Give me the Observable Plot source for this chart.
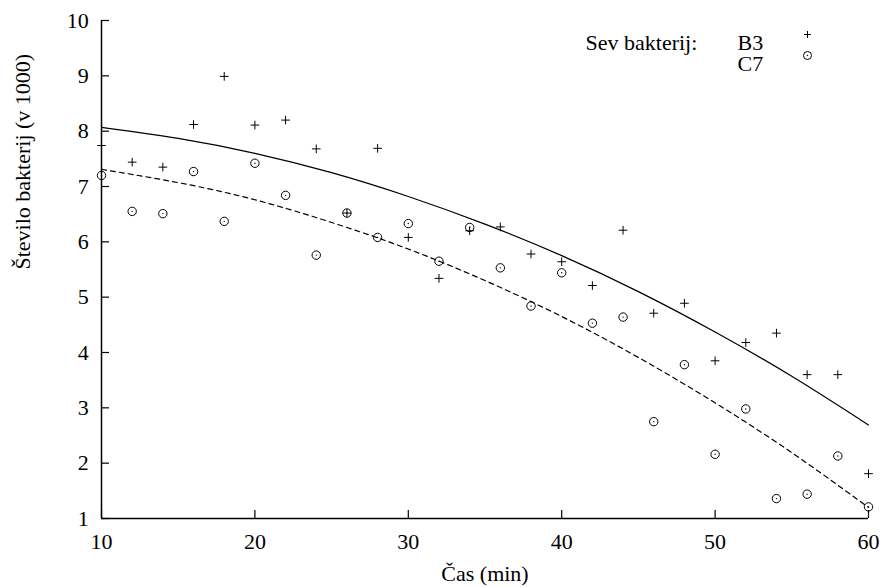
<!DOCTYPE html>
<html><head><meta charset="utf-8">
<script src="https://cdn.jsdelivr.net/npm/d3@7"></script>
<script src="https://cdn.jsdelivr.net/npm/@observablehq/plot@0.6"></script>
<style>body{margin:0;background:#fff} #chart svg{display:block} #chart svg text{font-family:"Liberation Serif","Times New Roman",serif !important}</style>
</head><body><div id="chart"></div>
<script>
const time = [10,12,14,16,18,20,22,24,26,28,30,32,34,36,38,40,42,44,46,48,50,52,54,56,58,60];
const b3 = [7.74,7.44,7.35,8.12,8.99,8.11,8.20,7.68,6.52,7.69,6.08,5.34,6.20,6.27,5.78,5.64,5.21,6.21,4.71,4.89,3.85,4.18,4.35,3.60,3.60,1.81];
const c7 = [7.20,6.55,6.51,7.27,6.37,7.42,6.84,5.76,6.52,6.08,6.33,5.65,6.26,5.53,4.84,5.44,4.53,4.64,2.75,3.78,2.16,2.98,1.36,1.44,2.13,1.21];
const fitTime = [10,15,20,25,30,35,40,45,50,55,60];
const b3Fit = [8.07,7.87,7.60,7.25,6.82,6.32,5.75,5.10,4.37,3.57,2.69];
const c7Fit = [7.31,7.07,6.76,6.35,5.87,5.30,4.65,3.91,3.09,2.19,1.20];
const xTicks = [10,20,30,40,50,60];
const yTicks = [1,2,3,4,5,6,7,8,9,10];
const legendTitle = "Sev bakterij:";
const seriesNames = ["B3","C7"];
const xLabel = "Čas (min)";
const yLabel = "Število bakterij (v 1000)";

const pts = time.map((t,i)=>({t, b3:b3[i], c7:c7[i]}));
const fit = fitTime.map((t,i)=>({t, b3:b3Fit[i], c7:c7Fit[i]}));
const FF = "Liberation Serif";
const txt = {fill:"#000", fontFamily:FF, fontSize:22};

const chart = Plot.plot({
  width:885, height:587, marginLeft:101, marginRight:17, marginTop:20, marginBottom:69,
  style:{fontFamily:FF, fontSize:"22px", color:"#000", background:"#fff"},
  x:{domain:[10,60]}, y:{domain:[1,10]},
  marks:[
    Plot.axisX(xTicks, {tickSize:-8, tickPadding:22.4, label:null, strokeWidth:1.2, tickFormat:d=>String(d), fontFamily:FF, fontSize:22}),
    Plot.axisY(yTicks, {tickSize:-8, tickPadding:20.7, label:null, strokeWidth:1.2, tickFormat:d=>String(d), fontFamily:FF, fontSize:22}),
    Plot.ruleX([10], {stroke:"#000", strokeWidth:1.5}),
    Plot.ruleY([1], {stroke:"#000", strokeWidth:1.5}),
    Plot.line(fit, {x:"t", y:"b3", stroke:"#000", strokeWidth:1.2, curve:"natural"}),
    Plot.line(fit, {x:"t", y:"c7", stroke:"#000", strokeWidth:1.2, strokeDasharray:"5,4", curve:"natural"}),
    Plot.dot(pts, {x:"t", y:"b3", symbol:"plus", r:2.9, stroke:"#000", strokeWidth:1}),
    Plot.dot(pts, {x:"t", y:"c7", symbol:"circle", r:4.2, stroke:"#000", fill:"none", strokeWidth:1}),
    Plot.dot(pts, {x:"t", y:"c7", r:0.7, fill:"#000", stroke:null}),
    Plot.text([xLabel], {frameAnchor:"bottom", dy:62, text:d=>d, ...txt}),
    Plot.text([yLabel], {frameAnchor:"left", dx:-79, rotate:-90, text:d=>d, ...txt}),
    Plot.text([legendTitle], {frameAnchor:"top-right", dx:-283, dy:14, textAnchor:"start", text:d=>d, ...txt}),
    Plot.text([seriesNames[0]], {frameAnchor:"top-right", dx:-131, dy:14, textAnchor:"start", text:d=>d, ...txt}),
    Plot.text([seriesNames[1]], {frameAnchor:"top-right", dx:-131, dy:35, textAnchor:"start", text:d=>d, ...txt}),
    Plot.dot([seriesNames[0]], {frameAnchor:"top-right", dx:-61, dy:14, symbol:"plus", r:2.4, stroke:"#000", strokeWidth:1}),
    Plot.dot([seriesNames[1]], {frameAnchor:"top-right", dx:-61, dy:35, symbol:"circle", r:4, stroke:"#000", fill:"none", strokeWidth:1}),
    Plot.dot([seriesNames[1]], {frameAnchor:"top-right", dx:-61, dy:35, r:0.7, fill:"#000", stroke:null})
  ]
});
document.getElementById("chart").appendChild(chart);
</script>
</body></html>
